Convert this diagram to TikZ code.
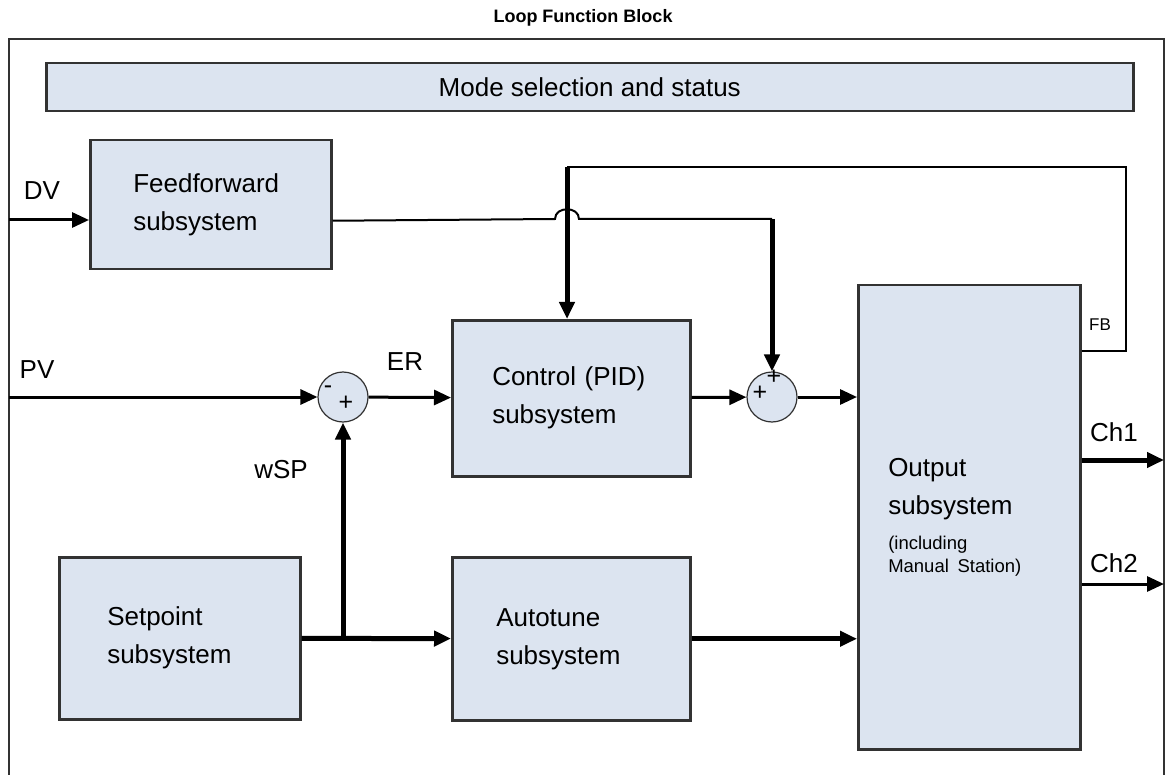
\documentclass[tikz,border=0pt]{standalone}
\usepackage{fontspec}
\setmainfont{Liberation Sans}
\usetikzlibrary{arrows.meta, positioning, calc}

\definecolor{boxfill}{RGB}{220,228,240}
\definecolor{boxline}{RGB}{50,50,50}

\begin{document}
\begin{tikzpicture}[
    x=1pt, y=-1pt,
    >={Triangle[length=17pt,width=15pt]},
    subsys/.style={draw=boxline, line width=2.5pt, fill=boxfill,
                   anchor=north west, inner xsep=0pt, align=left,
                   font=\fontsize{26}{38}\selectfont},
    sumjn/.style={draw=boxline, line width=1.2pt, fill=boxfill, circle,
                  minimum size=50pt, inner sep=0pt},
    sgn/.style={font=\fontsize{25}{25}\selectfont, inner sep=0pt},
    lbl/.style={font=\fontsize{26}{30}\selectfont, inner sep=0pt},
    sig/.style={draw, line width=3pt},
    bus/.style={draw, line width=5pt},
    wire/.style={draw, line width=2pt}
  ]
  \useasboundingbox (0,0) rectangle (1166,775);

  % frame and title
  \draw[line width=2pt, boxline] (9,790) |- (1164,39) -- (1164,790);
  \node[font=\bfseries\fontsize{18}{20}\selectfont] (title) at (583,18) {Loop Function Block};

  % blocks
  \node[subsys, align=center, minimum width=1087pt, minimum height=48pt] (mode) at (45,62) {Mode selection and status};
  \node[subsys, text width=155pt, minimum width=241pt, minimum height=129pt] (ff) at (89,139) {Feedforward\\subsystem};
  \node[subsys, text width=158pt, minimum width=238pt, minimum height=156pt] (ctrl) at (451,319) {Control (PID)\\subsystem};
  \node[subsys, text width=145pt, minimum width=241pt, minimum height=162pt] (sp) at (58,556) {Setpoint\\subsystem};
  \node[subsys, text width=150pt, minimum width=238pt, minimum height=163pt] (at) at (451,556) {Autotune\\subsystem};
  \node[subsys, text width=162pt, minimum width=222pt, minimum height=464pt] (out) at (857,284)
    {Output\\subsystem\par\vspace{13pt}{\fontsize{18.5}{22.5}\selectfont (including\\\mbox{Manual Station)}\par}};

  % summing junctions
  \node[sumjn] (sum1) at (343,397) {};
  \node[sumjn] (sum2) at (772,397) {};
  \node[sgn] (s1m) at (328,390) {-};
  \node[sgn] (s1p) at (346,403) {+};
  \node[sgn] (s2t) at (774,377) {+};
  \node[sgn] (s2l) at (760,393) {+};

  % signal names
  \node[lbl] (dvl) at (42,191) {DV};
  \node[lbl] (pvl) at (37,370) {PV};
  \node[lbl] (erl) at (405,362) {ER};
  \node[lbl] (wspl) at (281,470) {wSP};
  \node[lbl] (ch1l) at (1114,432) {Ch1};
  \node[lbl] (ch2l) at (1114,563) {Ch2};
  \node[lbl, font=\fontsize{17}{20}\selectfont] (fbl) at (1100,325) {FB};

  \coordinate (dvin) at (9,220);
  \coordinate (pvin) at (9,397);
  \coordinate (ch1) at (1164,460);
  \coordinate (ch2) at (1164,584);
  \coordinate (fbR) at (1126,167);
  \coordinate (fbL) at (567,167);
  \coordinate (ffR) at (772,219);

  % signal paths
  \draw[sig,->] (dvin) -- (dvin -| ff.west);
  \draw[sig,->] (pvin) -- (sum1);
  \draw[sig,->] (sum1) -- (ctrl);
  \draw[sig,->] (ctrl) -- (sum2);
  \draw[sig,->] (sum2) -- (sum2 -| out.west);
  \draw[bus,->] (sp) -- (at);
  \draw[bus,->] (at) -- (at -| out.west);
  \draw[bus,->] (sum1 |- sp.east) -- (sum1);

  % feedback
  \draw[wire] (out.north east) ++(0,67) -| (fbR) -- (fbL);
  \draw[bus,->] (fbL) -- (fbL |- ctrl.north);

  % feedforward with hop over feedback
  \draw[wire] ([yshift=-16pt]ff.east) -- ($(fbL |- ffR)+(-12,0)$)
    .. controls +(0,-13) and +(0,-13) .. ($(fbL |- ffR)+(12,0)$) -- (ffR);
  \draw[bus,->] (ffR) -- (sum2);

  % outputs
  \draw[bus,->] (out.east |- ch1) -- (ch1);
  \draw[sig,->] (out.east |- ch2) -- (ch2);
\end{tikzpicture}
\end{document}
